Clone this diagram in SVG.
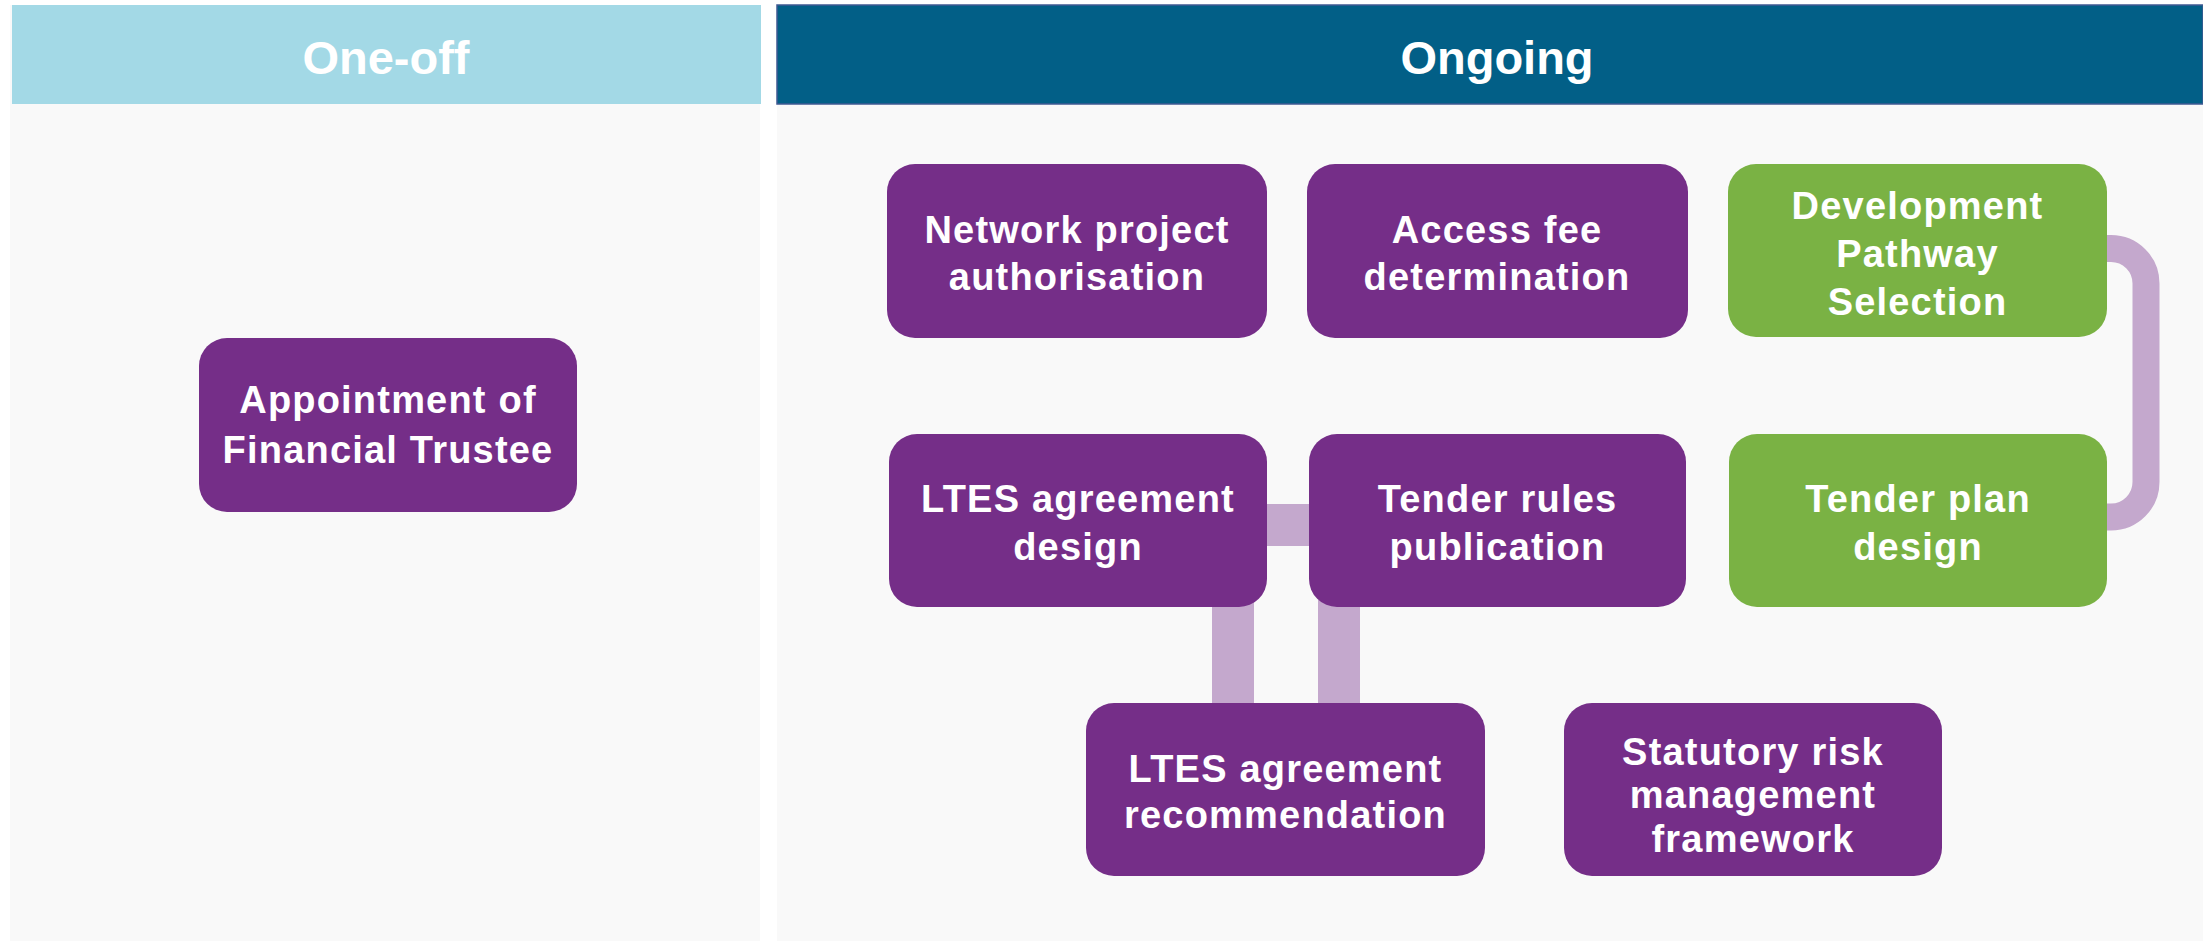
<svg xmlns="http://www.w3.org/2000/svg" width="2203" height="941" viewBox="0 0 2203 941">
<defs>
<style>
.panel{fill:#f9f9f9}
.node-p{fill:#752e88}
.node-g{fill:#7ab244}
.lbl{font-family:"Liberation Sans",Arial,sans-serif;font-weight:bold;font-size:38px;letter-spacing:1.2px;fill:#ffffff;text-anchor:middle}
.hdr{font-family:"Liberation Sans",Arial,sans-serif;font-weight:bold;font-size:47px;fill:#ffffff;text-anchor:middle}
.conn{fill:none;stroke:#c4a8cd;stroke-linejoin:round}
</style>
</defs>
<rect x="0" y="0" width="2203" height="941" fill="#ffffff"/>
<g id="lanes">
<rect class="panel" x="10" y="5" width="750" height="936"/>
<rect class="panel" x="777" y="5" width="1426" height="936"/>
<rect x="12" y="5" width="749" height="99" fill="#a3d9e6"/>
<rect x="777" y="5" width="1426" height="99" fill="#025f87" stroke="#3f5a92" stroke-width="1.5"/>
<text class="hdr" x="386" y="74">One-off</text>
<text class="hdr" x="1497" y="74">Ongoing</text>
</g>
<g id="connectors">
<path class="conn" stroke-width="27" stroke="#cbb3d2" d="M2090 248.5 H2111 A35 35 0 0 1 2146 283.5 V482 A35 35 0 0 1 2111 517 H2090"/>
<path class="conn" stroke-width="42" d="M1260 525 H1316"/>
<path class="conn" stroke-width="42" d="M1233 600 V710"/>
<path class="conn" stroke-width="42" d="M1339 600 V710"/>
</g>
<g id="n-appointment">
<rect class="node-p" x="199" y="338" width="378" height="174" rx="28"/>
<text class="lbl" x="388" y="413">Appointment of</text>
<text class="lbl" x="388" y="463">Financial Trustee</text>
</g>
<g id="n-network">
<rect class="node-p" x="887" y="164" width="380" height="174" rx="28"/>
<text class="lbl" x="1077" y="243">Network project</text>
<text class="lbl" x="1077" y="290">authorisation</text>
</g>
<g id="n-access">
<rect class="node-p" x="1307" y="164" width="381" height="174" rx="28"/>
<text class="lbl" x="1497" y="243">Access fee</text>
<text class="lbl" x="1497" y="290">determination</text>
</g>
<g id="n-development">
<rect class="node-g" x="1728" y="164" width="379" height="173" rx="28"/>
<text class="lbl" x="1917.5" y="219">Development</text>
<text class="lbl" x="1917.5" y="267">Pathway</text>
<text class="lbl" x="1917.5" y="315">Selection</text>
</g>
<g id="n-tenderplan">
<rect class="node-g" x="1729" y="434" width="378" height="173" rx="28"/>
<text class="lbl" x="1918" y="512">Tender plan</text>
<text class="lbl" x="1918" y="560">design</text>
</g>
<g id="n-ltesdesign">
<rect class="node-p" x="889" y="434" width="378" height="173" rx="28"/>
<text class="lbl" x="1078" y="512">LTES agreement</text>
<text class="lbl" x="1078" y="560">design</text>
</g>
<g id="n-tenderrules">
<rect class="node-p" x="1309" y="434" width="377" height="173" rx="28"/>
<text class="lbl" x="1497.5" y="512">Tender rules</text>
<text class="lbl" x="1497.5" y="560">publication</text>
</g>
<g id="n-ltesrec">
<rect class="node-p" x="1086" y="703" width="399" height="173" rx="28"/>
<text class="lbl" x="1285.5" y="782">LTES agreement</text>
<text class="lbl" x="1285.5" y="828">recommendation</text>
</g>
<g id="n-statutory">
<rect class="node-p" x="1564" y="703" width="378" height="173" rx="28"/>
<text class="lbl" x="1753" y="765">Statutory risk</text>
<text class="lbl" x="1753" y="808">management</text>
<text class="lbl" x="1753" y="852">framework</text>
</g>
</svg>
